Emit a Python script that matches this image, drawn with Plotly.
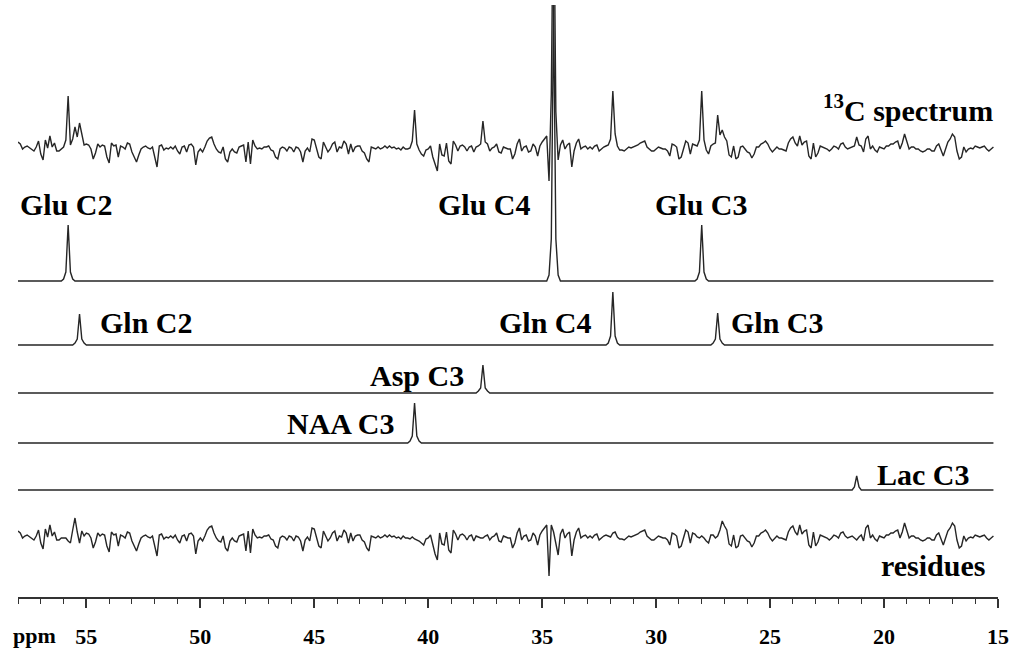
import plotly.graph_objects as go

# ---------------- data ----------------
# residues (fit residuals), one value per 0.1 ppm from 58.0 ppm downward, in display units
residues = [
    7, 5, 0, 2, 3, 1, 0, -2, 2, 8,
    -5, -11, 9, 1, 13, 2, 6, -2, -2, 0,
    0, 0, -3, -5, 8, 20, 6, -5, 7, 2,
    5, 4, 0, -10, -4, 5, 2, 4, 3, -8,
    -14, 6, 3, 4, -8, 3, 2, 0, 6, 5,
    -3, -8, -13, -6, 0, 2, 3, 1, 0, 2,
    -8, -18, 3, 4, -1, 1, 0, 2, 0, 3,
    -2, -5, 2, 3, -3, 4, 5, 2, -16, -3,
    0, -3, 2, 8, 11, 12, 5, 0, -3, -4,
    2, -10, -13, -3, 0, -3, -4, 2, 3, 4,
    -13, 7, -15, 9, 3, 0, 1, 0, 2, 2,
    3, -1, -2, -8, -10, 0, 2, 1, -2, 2,
    1, -3, 2, 1, -3, -13, -2, 1, -3, 10,
    9, 0, -8, -10, 7, 2, -3, 0, 5, 7,
    -3, 2, 1, 8, 5, -5, 5, -3, 2, 3,
    3, -2, -4, -10, -13, 2, 1, 0, 2, 0,
    1, 3, 1, 3, 1, 2, 0, 1, -1, 2,
    0, 0, -1, 1, -1, -2, -3, -5, -7, -1,
    0, 3, -8, -16, -22, 5, -6, -7, 6, -12,
    -15, 8, 4, -2, 3, 4, 2, -2, 2, 3,
    -3, 2, 1, 0, 0, 2, 3, -2, 1, 2,
    5, -3, -4, 2, 1, 0,
    0, -10, -5, 5, 10, -2, 2, 3, -3, -2,
    5, 2, -7, 3, 7, 10, 13, -38, 13, 6,
    -5, -17, 4, 9, 0, 4, 6, -18, -2, 6,
    10, 0, 2, 3, 0, 2, 0, 3, 4, -2,
    0, 2, 3, 2, 1, 5, 6, 1, -1, -1,
    -2, 0, 2, 1, 2, 3, 4, 6, 7, 8,
    2, 0, -2, -2, 0, 2, 1, 0, 0, -2,
    -7, 5, 4, 2, -10, -8, 0, 8, 6, -5,
    5, 4, 1, 0, 2, 0, -3, -5, 3, 3,
    0, 2, 8, 17, 12, 8, -6, -8, 3, -10,
    -8, 2, 3, 0, -3, -4, -9, -5, 2, 2,
    5, 6, 8, 5, 0, -3, 0, 2, 0, 0,
    -1, -2, 6, 10, 12, 6, 3, 13, 4, 7,
    8, -7, -10, 6, -8, -4, 3, 2, 1, 0,
    -2, 0, 3, 2, 0, 5, 6, 2, 0, 1,
    2, 0, -2, 1, 3, -3, 10, 13, 0, 3,
    -1, -3, 2, 1, 0, 3, 3, 5, 5, 7,
    8, 0, 6, 15, 8, 0, 2, 2, 0, 0,
    -2, -3, -2, 0, 0, -2, -2, 3, 5, -2,
    -7, 0, 7, 10, 15, 12, -2, -10, -8, 2,
    -3, 0, 1, 0, 3, 2, 1, 2, 3, 0,
    -2, 0, 2,
]
ppm_start = 58.0
ppm_step = 0.1

# fitted component lines: nonzero points (ppm, intensity)
glu_ppm = [56.0, 55.9, 55.8, 55.7, 55.6, 34.7, 34.6, 34.5, 34.4, 34.3, 28.2, 28.1, 28.0, 27.9, 27.8]
glu_val = [2, 9, 56, 9, 2, 6, 42, 276, 42, 6, 2, 9, 56, 9, 2]
gln_ppm = [55.5, 55.4, 55.3, 55.2, 55.1, 32.1, 32.0, 31.9, 31.8, 31.7, 27.5, 27.4, 27.3, 27.2, 27.1]
gln_val = [2, 6, 31, 6, 2, 2, 9, 53, 9, 2, 2, 6, 32, 6, 2]
asp_ppm = [37.8, 37.7, 37.6, 37.5, 37.4]
asp_val = [2, 5, 28, 5, 2]
naa_ppm = [40.8, 40.7, 40.6, 40.5, 40.4]
naa_val = [2, 7, 40, 7, 2]
lac_ppm = [21.3, 21.2, 21.1]
lac_val = [3, 14, 3]

tick_vals = [55, 50, 45, 40, 35, 30, 25, 20, 15]
tick_text = ["55", "50", "45", "40", "35", "30", "25", "20", "15"]

# ---------------- layout constants ----------------
W, H = 1016, 649
PL, PR, PT, PB = 18, 998, 5, 597      # plot-area pixel edges
X_LEFT, X_RIGHT = 58.0, 15.0
offsets = {"spec": 448, "glu": 316, "gln": 252, "asp": 204, "naa": 154, "lac": 107, "res": 59}
LINE = dict(color="#262626", width=1.4)

ppm = [round(ppm_start - ppm_step * i, 1) for i in range(len(residues))]


def on_grid(pp, vv):
    d = {round(p, 1): v for p, v in zip(pp, vv)}
    return [d.get(p, 0) for p in ppm]


glu = on_grid(glu_ppm, glu_val)
gln = on_grid(gln_ppm, gln_val)
asp = on_grid(asp_ppm, asp_val)
naa = on_grid(naa_ppm, naa_val)
lac = on_grid(lac_ppm, lac_val)
spectrum = [a + b + c + d + e + r for a, b, c, d, e, r in zip(glu, gln, asp, naa, lac, residues)]

fig = go.Figure()
for key, vals in [("spec", spectrum), ("glu", glu), ("gln", gln), ("asp", asp),
                  ("naa", naa), ("lac", lac), ("res", residues)]:
    fig.add_trace(go.Scatter(x=ppm, y=[offsets[key] + v for v in vals], mode="lines",
                             line=LINE, hoverinfo="skip", showlegend=False))


def px_x(px):
    return (px - PL) / (PR - PL)


def px_y(py):
    return (PB - py) / (PB - PT)


LBL = dict(family="Liberation Serif", size=30, color="black", weight="bold")
labels = [
    ("<sup>13</sup>C spectrum", 995, 108, "right"),
    ("Glu C2", 18, 204, "left"),
    ("Glu C4", 436, 204, "left"),
    ("Glu C3", 653, 204, "left"),
    ("Gln C2", 98, 322, "left"),
    ("Gln C4", 497, 322, "left"),
    ("Gln C3", 729, 322, "left"),
    ("Asp C3", 368, 375, "left"),
    ("NAA C3", 285, 423, "left"),
    ("Lac C3", 875, 475, "left"),
    ("residues", 987, 565, "right"),
]
for txt, x, y, anc in labels:
    fig.add_annotation(text=txt, x=px_x(x), y=px_y(y), xref="paper", yref="paper",
                       xanchor=anc, yanchor="middle", showarrow=False, font=LBL)
fig.add_annotation(text="ppm", x=px_x(11), y=px_y(635), xref="paper", yref="paper",
                   xanchor="left", yanchor="middle", showarrow=False,
                   font=dict(family="Liberation Serif", size=22, color="black", weight="bold"))

fig.update_layout(
    template="none",
    width=W, height=H,
    margin=dict(l=PL, r=W - PR, t=PT, b=H - PB, pad=0, autoexpand=False),
    paper_bgcolor="white", plot_bgcolor="white",
    showlegend=False,
    xaxis=dict(range=[X_LEFT, X_RIGHT], showgrid=False, zeroline=False, automargin=False,
               showline=True, linecolor="#333", linewidth=1.5,
               ticks="outside", ticklen=9, tickwidth=1.5, tickcolor="#333",
               tickvals=tick_vals, ticktext=tick_text, ticklabelstandoff=10,
               tickfont=dict(family="Liberation Serif", size=22, color="black", weight="bold"),
               minor=dict(dtick=1, tick0=0, ticks="outside", ticklen=5, tickwidth=1.3,
                          tickcolor="#333", showgrid=False)),
    yaxis=dict(range=[0, PB - PT], visible=False, fixedrange=True, automargin=False),
)

fig.write_html("out.html", config={"displayModeBar": False},
               post_script="document.body.style.margin='0';document.body.style.overflow='hidden';")
